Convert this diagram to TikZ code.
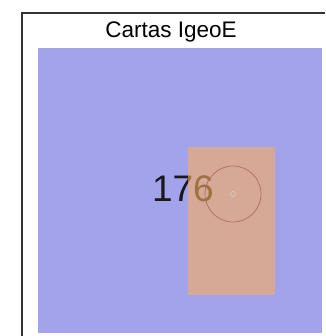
\documentclass[tikz,border=0pt]{standalone}
\usepackage{fontspec}
\setmainfont{Liberation Sans}
\usepackage{xcolor}
\usetikzlibrary{positioning}
\definecolor{mapblue}{RGB}{163,163,236}
\definecolor{sheetorange}{RGB}{248,172,93}
\definecolor{ringbrown}{RGB}{165,115,95}

\begin{document}
\begin{tikzpicture}[x=1pt, y=-1pt,
  area/.style={fill=mapblue, inner sep=0, minimum width=284pt, minimum height=285pt},
  sheet/.style={fill=sheetorange, fill opacity=0.6, inner sep=0, minimum width=87pt, minimum height=148pt},
  ring/.style={draw=ringbrown, circle, line width=0.7pt, minimum size=56pt, inner sep=0}
]
\useasboundingbox (0,0) rectangle (325,336);
\draw[line width=1.5pt, draw=black!80] (22,336) -- (22,13) -- (325,13);
\node[area, anchor=north west] (map) at (38,48) {};
\node[font=\fontsize{22.5}{25}\selectfont, anchor=base] (title) at (171,38) {Cartas IgeoE};
\node[font=\fontsize{37}{40}\selectfont, anchor=base east, inner sep=0, text=black!90] (num) at (214,201) {176};
\node[sheet, anchor=north west] (sheet) at (188,147) {};
\node[ring] (ring) at (233,194) {};
\node[circle, draw=ringbrown!25, minimum size=5pt, inner sep=0] (centre) at (ring.center) {};
\end{tikzpicture}
\end{document}
